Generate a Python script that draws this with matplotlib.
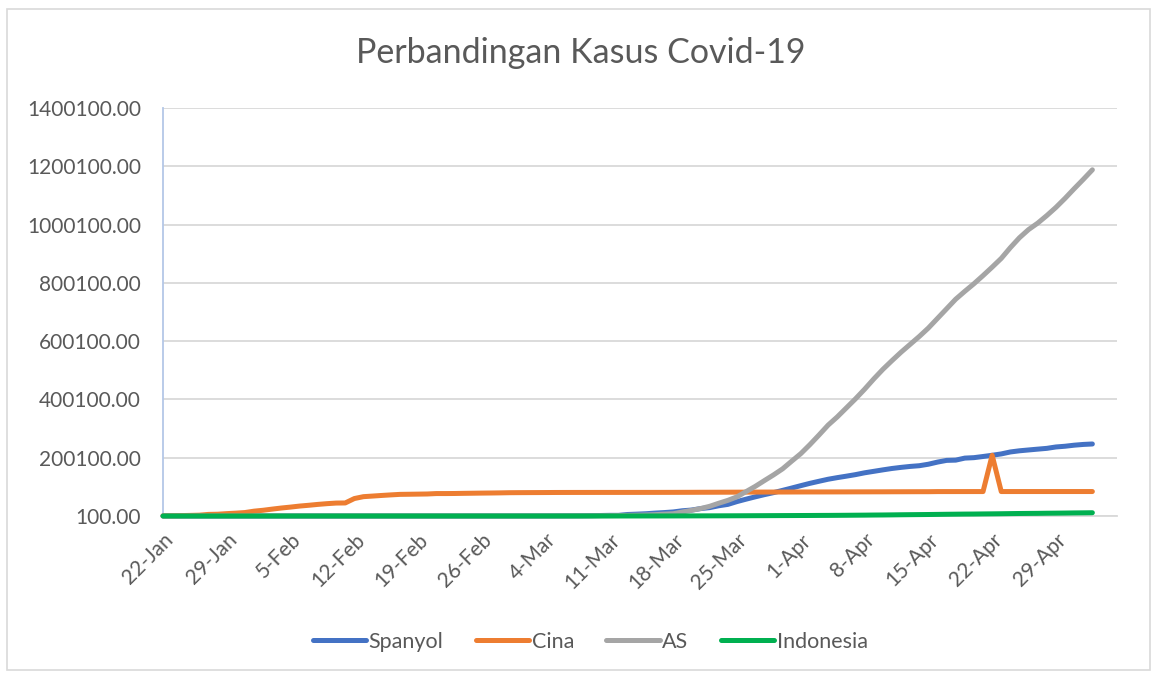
import pandas as pd
import matplotlib.pyplot as plt
import matplotlib.dates as mdates
from matplotlib.patches import Rectangle

# Daily cumulative cases, 22-Jan to 3-May
dates = pd.date_range("2020-01-22", "2020-05-03", freq="D")

spanyol = (
    [0] * 10
    + [1, 1, 1, 1, 1, 1, 1, 1, 2, 2, 2, 2, 2, 2, 2, 2, 2, 2, 2, 2, 2, 2, 2, 2, 6, 13, 15, 32, 45]
    + [84, 120, 165, 222, 259, 400, 500, 673, 1073, 1695, 2277, 2277, 5232, 6391, 7798, 9942,
       11748, 13910, 17963, 20410, 25374, 28768, 35136, 39885, 49515, 57786, 65719, 73235,
       80110, 87956, 95923]
    + [104118, 112065, 119199, 126168, 131646, 136675, 141942, 148220, 153222, 158273,
       163027, 166831, 170099, 172541, 177644, 184948, 190839, 191726, 198674, 200210,
       204178, 208389, 213024, 219764, 223759, 226629, 229422, 232128, 236899, 239369]
    + [242988, 245567, 247122]
)

cina = (
    [643, 920, 1406, 2075, 2877, 5509, 6087, 8141, 9802, 11891]
    + [16630, 19716, 23707, 27440, 30587, 34110, 36814, 39829, 42354, 44386, 44759, 59895,
       66358, 68413, 70513, 72434, 74211, 74619, 75077, 75550, 77001, 77022, 77241, 77754,
       78166, 78600, 78928, 79356, 79932]
    + [80136, 80261, 80386, 80537, 80690, 80770, 80823, 80860, 80887, 80921, 80932, 80945,
       80977, 81003, 81033, 81058, 81102, 81156, 81250, 81305, 81435, 81498, 81591, 81661,
       81782, 81897, 81999, 82122, 82198, 82279, 82361]
    + [82432, 82511, 82543, 82602, 82665, 82718, 82809, 82883, 82941, 83014, 83134, 83213,
       83306, 83356, 83403, 83760, 83787, 83805, 83817, 83853, 83868, 208389, 83899, 83909,
       83912, 83918, 83940, 83944, 83956, 83959]
    + [83959, 83964, 83966]
)

amerika = (
    [1, 1, 2, 2, 5, 5, 5, 5, 5, 6]
    + [8, 8, 11, 11, 11, 11, 11, 11, 11, 11, 12, 12, 13, 13, 13, 13, 13, 13, 13, 13, 15, 15,
       15, 51, 51, 57, 58, 60, 68]
    + [74, 98, 118, 149, 217, 262, 402, 518, 583, 959, 1281, 1663, 2179, 2727, 3499, 4632,
       6421, 7783, 13747, 19273, 25600, 33276, 43843, 53736, 65778, 83836, 101657, 121478,
       140886, 161807, 188172]
    + [214000, 245000, 278000, 312000, 340000, 371000, 402000, 435000, 470000, 503000,
       533000, 562000, 589000, 616000, 645000, 678000, 711000, 744000, 771000, 797000,
       825000, 854000, 884000, 921000, 955000, 983000, 1005000, 1031000, 1059000, 1090000]
    + [1123000, 1155000, 1188000]
)

indonesia = (
    [0] * 10
    + [0] * 29
    + [0, 2, 2, 2, 2, 4, 4, 6, 19, 27, 34, 34, 69, 96, 117, 134, 172, 227, 311, 369, 450,
       514, 579, 686, 790, 893, 1046, 1155, 1285, 1414, 1528]
    + [1677, 1790, 1986, 2092, 2273, 2491, 2738, 2956, 3293, 3512, 3842, 4241, 4557, 4839,
       5136, 5516, 5923, 6248, 6575, 6760, 7135, 7418, 7775, 8211, 8607, 8882, 9096, 9511,
       9771, 10118]
    + [10551, 10843, 11192]
)

series = [
    ("Spanyol", spanyol, "#4472C4"),
    ("Cina", cina, "#ED7D31"),
    ("AS", amerika, "#A5A5A5"),
    ("Indonesia", indonesia, "#00B050"),
]

y_ticks = [100, 200100, 400100, 600100, 800100, 1000100, 1200100, 1400100]
x_ticks = pd.date_range("2020-01-22", "2020-04-29", freq="7D")

plt.rcParams['font.family'] = ['Lato', 'DejaVu Sans']
text_color = "#595959"

fig = plt.figure(figsize=(11.57, 6.75), dpi=100)
ax = fig.add_axes([0.1409, 0.2356, 0.8245, 0.6044])

# chart border
fig.patches.append(Rectangle((0.006, 0.008), 0.988, 0.978, transform=fig.transFigure,
                             fill=False, edgecolor="#D9D9D9", linewidth=1.2))

for name, values, color in series:
    ax.plot(dates, values, color=color, linewidth=3.6, label=name, clip_on=False,
            zorder=3, solid_capstyle="round", solid_joinstyle="round")

ax.set_ylim(100, 1400100)
ax.set_yticks(y_ticks)
ax.set_yticklabels([f"{v:.2f}" for v in y_ticks])

start = mdates.date2num(pd.Timestamp("2020-01-22"))
ax.set_xlim(start, start + 104.7)
ax.set_xticks(x_ticks)
ax.set_xticklabels([d.strftime("%-d-%b") for d in x_ticks], rotation=45,
                   ha="right", rotation_mode="anchor")

ax.grid(axis="y", color="#D9D9D9", linewidth=1.3)
ax.set_axisbelow(True)
for side in ["top", "right"]:
    ax.spines[side].set_visible(False)
ax.spines["left"].set_color("#B4C7E7")
ax.spines["left"].set_linewidth(1.3)
ax.spines["bottom"].set_color("#D9D9D9")
ax.spines["bottom"].set_linewidth(1.3)
ax.tick_params(length=0, labelsize=15, colors=text_color)
ax.tick_params(axis="y", pad=16)
ax.tick_params(axis="x", pad=10)

fig.text(0.502, 0.922, "Perbandingan Kasus Covid-19", ha="center", va="center",
         fontsize=24.5, color=text_color)

fig.legend(loc="center", bbox_to_anchor=(0.51, 0.049), ncol=4, frameon=False,
           fontsize=15.5, handlelength=2.5, handletextpad=0.1, columnspacing=1.5,
           labelcolor=text_color)

plt.savefig("out.png", dpi=100)
